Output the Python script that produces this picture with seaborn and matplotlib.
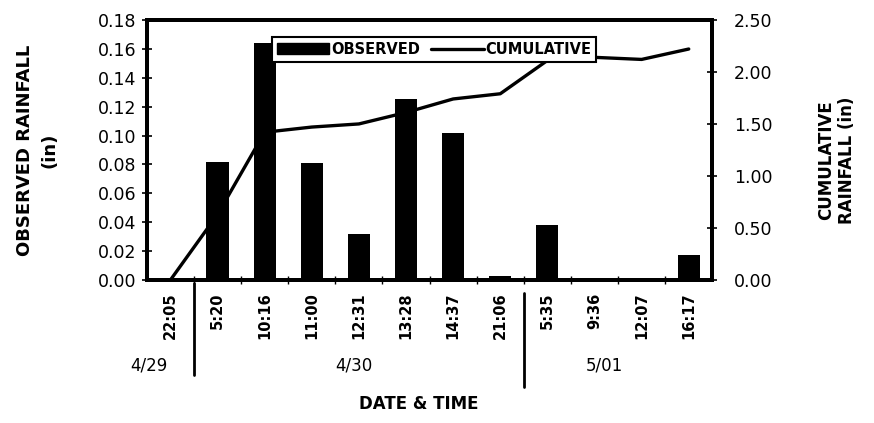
import numpy as np
import pandas as pd
import matplotlib
matplotlib.use("Agg")
import matplotlib.pyplot as plt
import matplotlib.transforms as mtrans
from matplotlib.patches import Patch
from matplotlib.lines import Line2D
import seaborn as sns

# ---- data ----
times = ["22:05", "5:20", "10:16", "11:00", "12:31", "13:28", "14:37",
         "21:06", "5:35", "9:36", "12:07", "16:17"]
observed = [0.0, 0.082, 0.164, 0.081, 0.032, 0.125, 0.102, 0.003,
            0.038, 0.0, 0.0, 0.017]
cumulative = [0.0, 0.63, 1.42, 1.47, 1.50, 1.61, 1.74, 1.79,
              2.11, 2.14, 2.12, 2.22]
dates = ["4/29", "4/30", "5/01"]
date_pos = [-0.45, 3.9, 9.2]
date_breaks = [0.5, 7.5]
left_ticks = [0.00, 0.02, 0.04, 0.06, 0.08, 0.10, 0.12, 0.14, 0.16, 0.18]
right_ticks = [0.00, 0.50, 1.00, 1.50, 2.00, 2.50]

df = pd.DataFrame({"time": times, "observed": observed,
                   "cumulative": cumulative, "pos": np.arange(len(times))})

sns.set_style("ticks")
plt.rcParams["font.family"] = ["DejaVu Sans"]
for k in ("text.color", "axes.labelcolor", "xtick.color", "ytick.color",
          "axes.edgecolor"):
    plt.rcParams[k] = "black"

fig = plt.figure(figsize=(8.74, 4.23), dpi=100)
ax = fig.add_axes([0.168, 0.338, 0.647, 0.615])

sns.barplot(data=df, x="time", y="observed", order=times, color="black",
            saturation=1, width=0.47, edgecolor="black", linewidth=0, ax=ax)
ax2 = ax.twinx()
sns.lineplot(data=df, x="pos", y="cumulative", color="black", linewidth=2.4,
             ax=ax2)

ax.set_xlim(-0.5, len(times) - 0.5)
ax.set_ylim(0, 0.18)
ax2.set_ylim(0, 2.5)

ax.set_yticks(left_ticks)
ax.set_yticklabels([f"{v:.2f}" for v in left_ticks], fontsize=12.5)
ax2.set_yticks(right_ticks)
ax2.set_yticklabels([f"{v:.2f}" for v in right_ticks], fontsize=12.5)

ax.set_xticks(range(len(times)))
ax.set_xticklabels(times, rotation=90, fontsize=10.5, fontweight="bold")
ax.set_xticks(np.arange(0.5, len(times) - 0.5, 1), minor=True)
ax.tick_params(axis="x", which="major", length=0, pad=9)
ax.tick_params(axis="x", which="minor", direction="inout", length=6, width=1)
ax.tick_params(axis="y", direction="inout", length=7, width=1.2, pad=4)
ax2.tick_params(axis="y", direction="inout", length=7, width=1.2, pad=12)

for a in (ax, ax2):
    for s in a.spines.values():
        s.set_visible(True)
        s.set_linewidth(2.8)
        s.set_color("black")

ax.set_xlabel("")
ax.set_ylabel("OBSERVED RAINFALL\n(in)", fontsize=13, fontweight="bold",
              linespacing=1.45)
ax.yaxis.set_label_coords(-0.157, 0.5)
ax2.set_ylabel("CUMULATIVE\nRAINFALL (in)", fontsize=12, fontweight="bold",
               rotation=90, linespacing=1.2)
ax2.yaxis.set_label_coords(1.185, 0.46)

trans = mtrans.blended_transform_factory(ax.transData, ax.transAxes)
for d, p in zip(dates, date_pos):
    ax.text(p, -0.33, d, transform=trans, ha="center", va="center",
            fontsize=12)
for b, y0, y1 in zip(date_breaks, [-0.01, -0.05], [-0.365, -0.41]):
    ax.add_line(Line2D([b, b], [y0, y1], transform=trans, color="black",
                       linewidth=2, clip_on=False))
ax.text(0.48, -0.475, "DATE & TIME", transform=ax.transAxes, ha="center",
        va="center", fontsize=12, fontweight="bold")

handles = [Patch(facecolor="black", edgecolor="black"),
           Line2D([], [], color="black", linewidth=2.4)]
leg = ax2.legend(handles, ["OBSERVED", "CUMULATIVE"], ncol=2,
                 loc="upper center", bbox_to_anchor=(0.508, 0.935),
                 frameon=True, fancybox=False,
                 prop={"weight": "bold", "size": 10.5},
                 handlelength=3.6, handleheight=0.8, handletextpad=0.1,
                 columnspacing=0.8, borderpad=0.35, borderaxespad=0)
leg.get_frame().set_edgecolor("black")
leg.get_frame().set_linewidth(1.5)
leg.get_frame().set_alpha(1)

fig.savefig("out.png", dpi=100)
